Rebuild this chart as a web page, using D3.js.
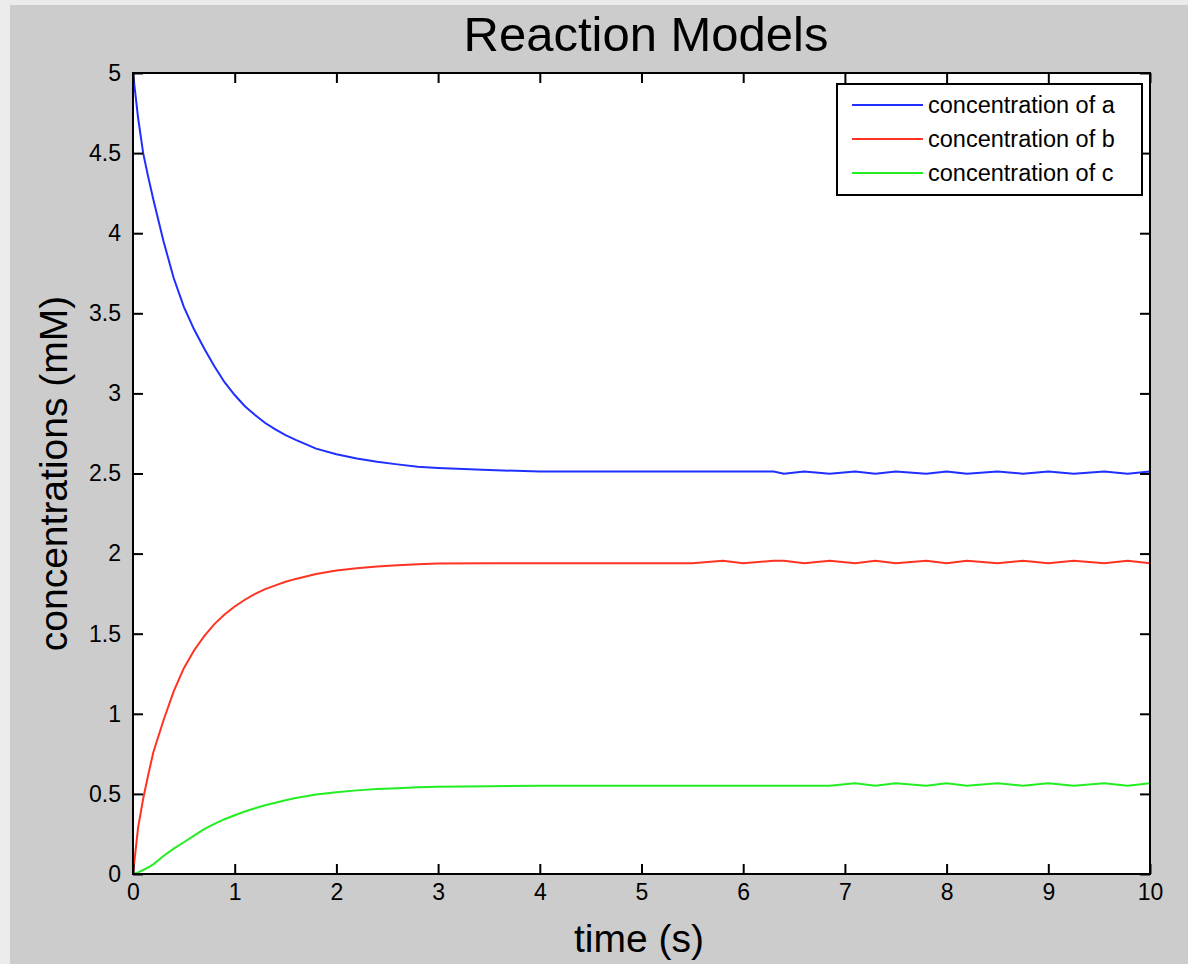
<!DOCTYPE html>
<html lang="en">
<head>
    <meta charset="UTF-8">
    <title>Reaction Models</title>
    <style>
        body { margin: 0; background: #ebebeb; font-family: "Liberation Sans", Arial, sans-serif; }
        #chart { width: 1188px; height: 964px; }
    </style>
    <script src="https://d3js.org/d3.v7.min.js"></script>
</head>
<body>
    <div id="chart"></div>

    <script>
        // time points (s)
        const time = [0, 0.05, 0.1, 0.15, 0.2, 0.3, 0.4, 0.5, 0.6, 0.7, 0.8, 0.9, 1.0,
            1.1, 1.2, 1.3, 1.4, 1.5, 1.6, 1.8, 2.0, 2.2, 2.4, 2.6, 2.8, 3.0,
            3.5, 4, 4.5, 5, 5.5, 5.8, 6.0, 6.3, 6.4, 6.6, 6.85, 7.1, 7.3, 7.5,
            7.8, 8.0, 8.2, 8.5, 8.75, 9.0, 9.25, 9.55, 9.78, 10];

        // concentrations (mM)
        const concA = [5.0, 4.72, 4.50, 4.35, 4.21, 3.95, 3.72, 3.54, 3.40, 3.28, 3.17, 3.07, 2.99,
            2.92, 2.865, 2.815, 2.775, 2.74, 2.71, 2.655, 2.62, 2.594, 2.573, 2.557, 2.542, 2.535,
            2.522, 2.512, 2.512, 2.512, 2.512, 2.512, 2.512, 2.512, 2.499, 2.512, 2.499, 2.512, 2.499, 2.512,
            2.499, 2.512, 2.499, 2.512, 2.499, 2.512, 2.499, 2.512, 2.499, 2.512];
        const concB = [0, 0.29, 0.47, 0.62, 0.76, 0.96, 1.14, 1.285, 1.395, 1.485, 1.56, 1.62, 1.67,
            1.712, 1.748, 1.778, 1.802, 1.824, 1.842, 1.873, 1.895, 1.908, 1.92, 1.928, 1.934, 1.938,
            1.94, 1.94, 1.94, 1.94, 1.94, 1.955, 1.94, 1.955, 1.955, 1.94, 1.955, 1.94, 1.955, 1.94,
            1.955, 1.94, 1.955, 1.94, 1.955, 1.94, 1.955, 1.94, 1.955, 1.94];
        const concC = [0, 0.01, 0.025, 0.042, 0.06, 0.112, 0.158, 0.198, 0.24, 0.28, 0.313, 0.342, 0.367,
            0.39, 0.41, 0.429, 0.445, 0.46, 0.474, 0.496, 0.511, 0.522, 0.53, 0.536, 0.541, 0.545,
            0.548, 0.551, 0.551, 0.551, 0.551, 0.551, 0.551, 0.551, 0.551, 0.551, 0.551, 0.566, 0.551, 0.566,
            0.551, 0.566, 0.551, 0.566, 0.551, 0.566, 0.551, 0.566, 0.551, 0.566];

        const seriesNames = ['concentration of a', 'concentration of b', 'concentration of c'];
        const seriesColors = ['#1f2fff', '#ff3322', '#22ee22'];
        const xTicks = [0, 1, 2, 3, 4, 5, 6, 7, 8, 9, 10];
        const yTicks = [0, 0.5, 1, 1.5, 2, 2.5, 3, 3.5, 4, 4.5, 5];

        const W = 1188, H = 964;
        const plot = {left: 133, right: 1150, top: 73, bottom: 874};

        const svg = d3.select('#chart').append('svg')
            .attr('width', W)
            .attr('height', H);

        // figure background
        svg.append('rect')
            .attr('x', 10).attr('y', 5)
            .attr('width', W - 10).attr('height', H - 5)
            .attr('fill', '#cccccc');

        svg.append('rect')
            .attr('x', plot.left).attr('y', plot.top)
            .attr('width', plot.right - plot.left).attr('height', plot.bottom - plot.top)
            .attr('fill', '#ffffff');

        const x = d3.scaleLinear().domain([0, 10]).range([plot.left, plot.right]);
        const y = d3.scaleLinear().domain([0, 5]).range([plot.bottom, plot.top]);

        // lines
        const line = d3.line()
            .x(d => x(d[0]))
            .y(d => y(d[1]));

        [concA, concB, concC].forEach((vals, i) => {
            svg.append('path')
                .datum(time.map((t, j) => [t, vals[j]]))
                .attr('fill', 'none')
                .attr('stroke', seriesColors[i])
                .attr('stroke-width', 2)
                .attr('d', line);
        });

        // axes, ticks pointing inward on all four sides
        const styleAxis = g => {
            g.select('.domain').remove();
            g.selectAll('.tick line').attr('stroke', '#000').attr('stroke-width', 2);
            g.selectAll('.tick text').attr('fill', '#000')
                .style('font-family', '"Liberation Sans", Arial, sans-serif')
                .style('font-size', '23px');
        };

        svg.append('g')
            .attr('transform', `translate(0, ${plot.bottom})`)
            .call(d3.axisBottom(x).tickValues(xTicks).tickSizeInner(-10).tickSizeOuter(0).tickPadding(10))
            .call(styleAxis);
        svg.append('g')
            .attr('transform', `translate(0, ${plot.top})`)
            .call(d3.axisTop(x).tickValues(xTicks).tickSizeInner(-10).tickSizeOuter(0).tickFormat(''))
            .call(styleAxis);
        svg.append('g')
            .attr('transform', `translate(${plot.left}, 0)`)
            .call(d3.axisLeft(y).tickValues(yTicks).tickSizeInner(-10).tickSizeOuter(0).tickPadding(12).tickFormat(d3.format('')))
            .call(styleAxis);
        svg.append('g')
            .attr('transform', `translate(${plot.right}, 0)`)
            .call(d3.axisRight(y).tickValues(yTicks).tickSizeInner(-10).tickSizeOuter(0).tickFormat(''))
            .call(styleAxis);

        // axes box
        svg.append('rect')
            .attr('x', plot.left).attr('y', plot.top)
            .attr('width', plot.right - plot.left).attr('height', plot.bottom - plot.top)
            .attr('fill', 'none')
            .attr('stroke', '#000')
            .attr('stroke-width', 2);

        // title and axis labels
        svg.append('text')
            .attr('x', 646)
            .attr('y', 51)
            .attr('text-anchor', 'middle')
            .style('font-size', '49px')
            .text('Reaction Models');

        svg.append('text')
            .attr('x', 639)
            .attr('y', 952)
            .attr('text-anchor', 'middle')
            .style('font-size', '39px')
            .text('time (s)');

        svg.append('text')
            .attr('transform', `translate(67, ${(plot.top + plot.bottom) / 2}) rotate(-90)`)
            .attr('text-anchor', 'middle')
            .style('font-size', '39px')
            .text('concentrations (mM)');

        // legend
        const legend = svg.append('g').attr('transform', 'translate(837, 84)');
        legend.append('rect')
            .attr('width', 305).attr('height', 111)
            .attr('fill', '#fff')
            .attr('stroke', '#000')
            .attr('stroke-width', 2);

        seriesNames.forEach((name, i) => {
            const ly = 21 + i * 34;
            legend.append('line')
                .attr('x1', 15).attr('x2', 86)
                .attr('y1', ly).attr('y2', ly)
                .attr('stroke', seriesColors[i])
                .attr('stroke-width', 2);
            legend.append('text')
                .attr('x', 91).attr('y', ly)
                .attr('dy', '0.35em')
                .style('font-size', '23.5px')
                .text(name);
        });
    </script>
</body>
</html>
